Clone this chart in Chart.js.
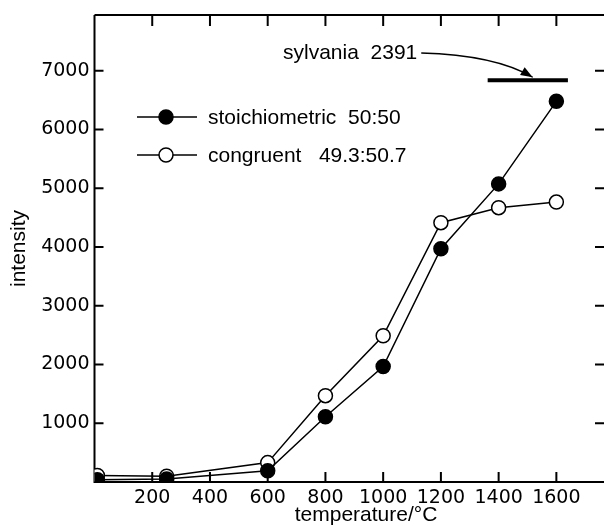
<!DOCTYPE html>
<html><head><meta charset="utf-8">
<script src="https://cdn.jsdelivr.net/npm/chart.js@4/dist/chart.umd.min.js"></script>
<style>html,body{margin:0;padding:0;background:#fff;overflow:hidden}#wrap{width:604px;height:526px;position:relative}</style>
</head><body><div id="wrap"><canvas id="c" width="604" height="526"></canvas></div>
<script>
// ---- data ----
const temperatures = [10, 250, 600, 800, 1000, 1200, 1400, 1600];
const stoichiometric = [40, 50, 190, 1110, 1965, 3970, 5075, 6480];
const congruent = [110, 100, 330, 1470, 2490, 4415, 4670, 4765];
const sylvaniaX = [1362, 1640];
const sylvaniaY = [6840, 6840];
const arrowTip = [1518, 6840];
const xTicks = [200, 400, 600, 800, 1000, 1200, 1400, 1600];
const yTicks = [1000, 2000, 3000, 4000, 5000, 6000, 7000];
const seriesLabels = ['stoichiometric  50:50', 'congruent   49.3:50.7'];
const annotationLabel = 'sylvania  2391';
const xTitle = 'temperature/°C';
const yTitle = 'intensity';

const TEXT_FONT = '"Liberation Sans", Arial, Helvetica, sans-serif';
const TICK_FONT = '"DejaVu Sans", sans-serif';

const pts = (xs, ys) => xs.map((x, i) => ({x: x, y: ys[i]}));

const framePlugin = {
  id: 'frame',
  beforeDatasetsDraw(chart) {
    const {ctx, chartArea: a, scales: {x, y}} = chart;
    ctx.save();
    ctx.strokeStyle = '#000';
    ctx.lineWidth = 2;
    ctx.beginPath();
    ctx.moveTo(a.left, a.top); ctx.lineTo(a.right, a.top);
    ctx.moveTo(a.left, a.top); ctx.lineTo(a.left, a.bottom);
    ctx.moveTo(a.left - 1, a.bottom); ctx.lineTo(a.right, a.bottom);
    // inward tick marks from the scales
    x.ticks.forEach(t => {
      const px = x.getPixelForValue(t.value);
      ctx.moveTo(px, a.bottom); ctx.lineTo(px, a.bottom - 10);
      ctx.moveTo(px, a.top); ctx.lineTo(px, a.top + 11);
    });
    y.ticks.forEach(t => {
      const py = y.getPixelForValue(t.value);
      ctx.moveTo(a.left, py); ctx.lineTo(a.left + 9, py);
      ctx.moveTo(a.right, py); ctx.lineTo(a.right - 9, py);
    });
    ctx.stroke();
    ctx.restore();
  },
  afterDatasetsDraw(chart) {
    const {ctx, chartArea: a, scales: {x, y}} = chart;
    ctx.save();
    // legend
    const lx1 = 137, lx2 = 197, mx = 166, tx = 208;
    const rows = [117, 155];
    ctx.font = '21px ' + TEXT_FONT;
    ctx.fillStyle = '#000';
    ctx.textBaseline = 'middle';
    rows.forEach((ry, i) => {
      ctx.strokeStyle = '#000';
      ctx.lineWidth = 1.5;
      ctx.beginPath(); ctx.moveTo(lx1, ry); ctx.lineTo(lx2, ry); ctx.stroke();
      ctx.beginPath(); ctx.arc(mx, ry, 7, 0, Math.PI * 2);
      ctx.fillStyle = i === 0 ? '#000' : '#fff';
      ctx.fill(); ctx.stroke();
      ctx.fillStyle = '#000';
      ctx.fillText(seriesLabels[i], tx, ry + 1);
    });
    // annotation text and curved arrow
    const ax = 283, ay = 52;
    ctx.textBaseline = 'middle';
    ctx.fillText(annotationLabel, ax, ay + 1);
    const w = ctx.measureText(annotationLabel).width;
    const sx = ax + w + 4, sy = ay + 1;
    const ex = x.getPixelForValue(arrowTip[0]);
    const ey = y.getPixelForValue(arrowTip[1]) - 3;
    const cx = 495, cy = 55;
    ctx.strokeStyle = '#000';
    ctx.lineWidth = 1.3;
    ctx.beginPath(); ctx.moveTo(sx, sy); ctx.quadraticCurveTo(cx, cy, ex, ey); ctx.stroke();
    const ang = Math.atan2(ey - cy, ex - cx);
    const L = 12, W = 4.5;
    ctx.beginPath();
    ctx.moveTo(ex, ey);
    ctx.lineTo(ex - L * Math.cos(ang) + W * Math.sin(ang), ey - L * Math.sin(ang) - W * Math.cos(ang));
    ctx.lineTo(ex - L * Math.cos(ang) - W * Math.sin(ang), ey - L * Math.sin(ang) + W * Math.cos(ang));
    ctx.closePath();
    ctx.fillStyle = '#000';
    ctx.fill();
    // x axis title
    ctx.font = '21px ' + TEXT_FONT;
    ctx.textAlign = 'center';
    ctx.textBaseline = 'alphabetic';
    ctx.fillText(xTitle, 366, 521);
    ctx.restore();
  }
};

new Chart(document.getElementById('c'), {
  type: 'line',
  data: {
    datasets: [
      {
        label: 'sylvania 2391',
        data: pts(sylvaniaX, sylvaniaY),
        borderColor: '#000', borderWidth: 4, pointRadius: 0, borderCapStyle: 'butt'
      },
      {
        label: seriesLabels[0],
        data: pts(temperatures, stoichiometric),
        borderColor: '#000', borderWidth: 1.5,
        pointRadius: 7, pointBackgroundColor: '#000', pointBorderColor: '#000', pointBorderWidth: 1.5
      },
      {
        label: seriesLabels[1],
        data: pts(temperatures, congruent),
        borderColor: '#000', borderWidth: 1.5,
        pointRadius: 7, pointBackgroundColor: '#fff', pointBorderColor: '#000', pointBorderWidth: 1.5
      }
    ]
  },
  options: {
    responsive: false,
    animation: false,
    events: [],
    layout: {autoPadding: false, padding: {top: 15, left: 0, right: 0, bottom: 0}},
    plugins: {legend: {display: false}, tooltip: {enabled: false}},
    elements: {line: {tension: 0}},
    scales: {
      x: {
        type: 'linear', position: 'bottom', min: 0, max: 1765,
        afterBuildTicks: s => { s.ticks = xTicks.map(v => ({value: v})); },
        afterFit: s => { s.height = 44; s.paddingLeft = 0; s.paddingRight = 0; },
        grid: {display: false, drawTicks: false},
        border: {display: false},
        ticks: {color: '#000', padding: 5, maxRotation: 0, font: {family: TICK_FONT, size: 19},
                callback: v => String(v)}
      },
      y: {
        type: 'linear', position: 'left', min: 0, max: 7950,
        afterBuildTicks: s => { s.ticks = yTicks.map(v => ({value: v})); },
        afterFit: s => { s.width = 94.5; s.paddingTop = 0; s.paddingBottom = 0; },
        grid: {display: false, drawTicks: false},
        border: {display: false},
        title: {display: true, text: yTitle, color: '#000', padding: {top: 7, bottom: 0}, font: {family: TEXT_FONT, size: 21}},
        ticks: {color: '#000', padding: 5, font: {family: TICK_FONT, size: 19},
                callback: v => String(v)}
      }
    }
  },
  plugins: [framePlugin]
});
</script>
</body></html>
